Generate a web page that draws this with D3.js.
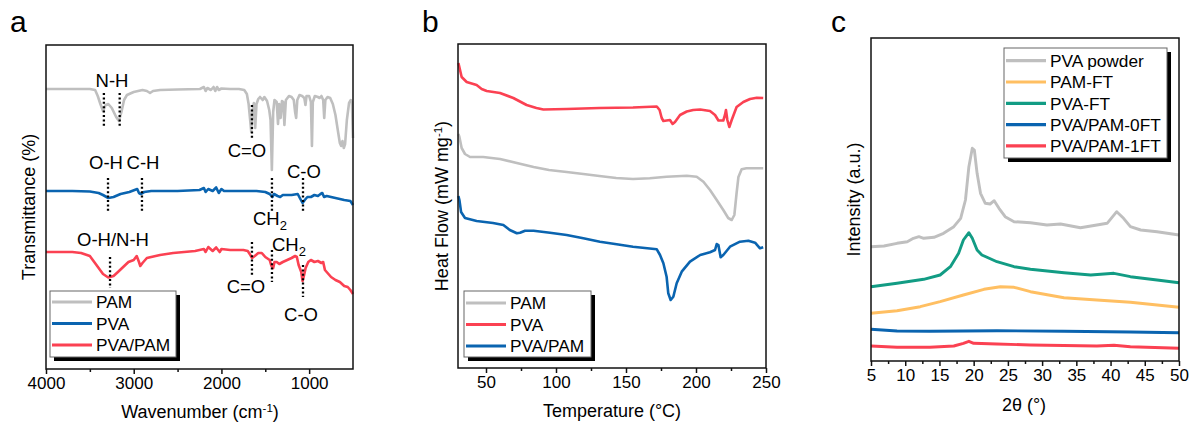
<!DOCTYPE html>
<html><head><meta charset="utf-8">
<script src="https://cdn.jsdelivr.net/npm/d3@7"></script>
<style>body{margin:0;background:#fff} svg{font-family:"Liberation Sans",Arial,sans-serif}</style>
</head><body><svg id="chart" width="1197" height="431"></svg>
<script>
// ---------- DATA ----------
// (a) FTIR: [wavenumber cm-1, transmittance a.u.]
const ftirPAM = [[4000,280],[3600,280],[3500,280],[3440,279],[3410,273],[3380,265],[3350,258],[3320,264],[3290,265],[3250,261],[3200,252],[3168,248],[3140,257],[3110,269],[3077,274],[3000,277],[2900,279],[2850,278],[2814,276],[2780,278],[2700,279],[2500,279.5],[2245,280],[2200,282],[2180,278],[2160,281],[2120,279],[2090,282],[2070,278],[2050,282],[2030,279],[2000,280.5],[1900,280],[1800,280],[1740,279],[1710,275],[1690,265],[1670,247],[1660,237],[1645,259],[1630,266],[1615,241],[1600,265],[1580,270],[1560,272],[1530,269],[1510,272],[1480,268],[1455,259],[1440,249],[1425,199],[1410,257],[1395,269],[1370,267],[1355,245],[1342,265],[1325,251],[1310,268],[1295,267],[1282,244],[1265,269],[1230,273],[1200,272],[1175,269],[1160,257],[1148,251],[1135,269],[1110,274],[1080,273],[1055,271],[1042,264],[1030,273],[1000,273],[980,267],[968,223],[958,267],[935,273],[900,272],[880,271],[860,273],[840,269],[828,251],[815,269],[790,272],[760,271],[730,265],[700,254],[670,237],[650,226],[635,223],[620,228],[605,221],[590,225],[570,249],[545,266],[525,269],[512,267],[505,244],[500,231]];
const ftirPVA = [[4000,178],[3700,178],[3500,177.5],[3400,176],[3350,174],[3290,171],[3230,172],[3150,175],[3050,177],[2990,179],[2960,180],[2940,176],[2920,175],[2880,177],[2800,178],[2500,178],[2250,179],[2200,181],[2180,177],[2150,180],[2100,178],[2060,181.5],[2030,176],[2000,180],[1970,178],[1800,178],[1600,178],[1500,177],[1450,175],[1420,172],[1400,175],[1360,173],[1330,172],[1300,174],[1200,174],[1130,175],[1100,170],[1075,166],[1050,169],[1020,172],[980,172],[940,174],[900,173],[870,175],[850,176],[830,172],[800,173],[700,171],[600,169],[530,168],[500,164]];
const ftirBlend = [[4000,117],[3700,117],[3600,116],[3500,113],[3450,107],[3400,101],[3350,95],[3290,91.5],[3230,93],[3180,97],[3120,102],[3060,107],[3000,109],[2966,113],[2940,107],[2925,103],[2900,106],[2850,111],[2700,114],[2550,116],[2300,118],[2200,120],[2180,117],[2150,122],[2100,118],[2060,121.5],[2020,117],[2000,120],[1900,119],[1750,119],[1700,118],[1670,114],[1650,111],[1620,113],[1580,116],[1540,116],[1500,112],[1450,109],[1430,103],[1410,101],[1395,107],[1370,107],[1340,105],[1300,107],[1250,109],[1200,111],[1160,113],[1140,112],[1120,104],[1090,97],[1075,88],[1060,93],[1040,101],[1010,107],[980,109],[940,107],[900,108],[860,106],[840,107],[820,99],[790,96],[750,92],[700,89],[650,87],[600,83],[560,82],[530,79],[500,75]];
const ftirTicks = [4000, 3000, 2000, 1000];
const ftirMinor = [3500, 2500, 1500];
// dotted band markers: [wavenumber, top, bottom]
const ftirMarks = [[3340,276,243],[3160,276,243],[1652,264,230],[3293,191,158],[2906,191,158],[1424,191,157],[1070,191,157],[3270,112,81],[1652,127,94],[1424,119,87],[1070,104,72]];
// band labels: [text, wavenumber, level, anchor]
const ftirLabels = [["N-H",3248,282,"middle"],["C=O",1709,212,"middle"],["O-H",3316,200,"middle"],["C-H",2894,200,"middle"],["C-O",1059,191,"middle"],["CH2",1640,144,"start"],["O-H/N-H",3236,123,"middle"],["CH2",1424,118,"start"],["C=O",1720,76,"middle"],["C-O",1093,48,"middle"]];

// (b) DSC: [temperature °C, heat flow a.u.]
const dscPVA = [[30.3,305],[32.6,291],[36.2,286],[43.3,283],[46.9,279],[50.5,277],[60,275],[69.5,270],[79,263],[86,260],[91,258.5],[107.6,259],[131,260],[155,260.5],[172,261.5],[174,258],[175.5,250],[176.7,247],[179,247.5],[181.4,248],[183.3,244],[185,246],[188.6,253],[193.4,256.5],[198,258],[203,258.5],[210,257],[213.6,253],[216,247.5],[219.5,247.5],[220.7,253],[221.4,258],[222.4,248],[223.8,241],[225.5,248],[229,261],[233.8,266],[238.6,269],[243.4,270.3],[248,270]];
const dscPAM = [[30.3,234],[31,231],[32.6,220],[35,214],[38.6,211],[48,211],[60,209],[72,205],[84,201],[95,198],[107.6,196],[119.5,194],[131,192],[143,190],[155,189],[167,189.7],[179,191.3],[193.4,192.3],[200.5,191.3],[205.3,186.3],[210,178],[214.8,168],[219.5,158],[223,150],[225.5,148],[227.4,153],[229,175],[230.3,191],[232.6,198.7],[236,199.7],[248,199.7]];
const dscBlend = [[30.3,172],[31,168],[32.2,156],[35,150],[43.3,147],[55,145],[62.4,143],[67,138],[72,134.7],[74.3,135.3],[77.9,137.3],[84,137.3],[95.7,135.3],[107.6,133],[119.5,129.7],[131.4,126.3],[143.3,123.7],[155,121.3],[172,118.7],[174.3,113],[176.7,104.7],[179,91.3],[180.2,74.7],[181.9,68],[183.8,71.3],[186.2,84.7],[189.8,96.3],[195.7,106.3],[203,113],[210,115.7],[213.6,118],[214.8,124],[216,123],[217.6,110.7],[219.5,113],[224.3,121.3],[231.4,126.3],[237.4,127.3],[242.2,125.3],[245.7,119.7],[248,120.7]];
const dscTicks = [50, 100, 150, 200, 250];
const dscMinor = [75, 125, 175, 225];

// (c) XRD: [2θ °, intensity a.u.]
const xrdPowder = [[5,114.3],[6.9,115],[8.8,117.7],[10.3,119.3],[11.2,122.7],[12,124.3],[12.7,122.7],[14.2,123.7],[15.6,127.7],[17.1,134.3],[18.1,142.7],[18.8,161],[19.3,194.3],[19.8,212.7],[20.1,211],[20.5,187.7],[21,167.7],[21.7,157.7],[22.4,157],[23,160.3],[23.7,152.7],[24.6,144.3],[25.9,139.3],[28.3,138.3],[30.7,136],[32.7,137],[35.6,133.3],[38,136],[39.5,137.7],[40.9,149.3],[41.9,142.7],[42.9,134.3],[44.4,131],[46.8,129.3],[50,126]];
const xrdPAMFT = [[5,47.7],[8.8,50.3],[12.2,54.3],[15.1,59.3],[18.5,66],[21.5,71.7],[23.9,74.3],[25.9,73.7],[28.3,69.3],[33.2,63.3],[38,61],[42.9,58.7],[50,53.7]];
const xrdPVAFT = [[5,74.3],[8.8,77.7],[12.7,81.7],[15.1,86],[16.6,94.3],[17.8,107.7],[18.5,121],[19.3,128.3],[19.8,122.7],[20.5,111],[21.2,106],[23.4,99.3],[25.9,94.3],[28.3,91.7],[33.2,88.3],[37.1,86],[40.5,87.7],[42.9,84.3],[46.8,81],[50,78.3]];
const xrd0FT = [[5,31.7],[8.8,30],[13.6,29.7],[23.4,30.3],[33.2,29.7],[42.9,29],[50,28.3]];
const xrd1FT = [[5,15],[8.8,13.7],[13.6,13.7],[17.1,15],[18.5,17.7],[19.3,19.7],[20,17.7],[23.4,17],[28.3,16],[38,15],[40.5,15.7],[42.9,14.3],[50,12.7]];
const xrdTicks = [5,10,15,20,25,30,35,40,45,50];
const xrdMinor = [7.5,12.5,17.5,22.5,27.5,32.5,37.5,42.5,47.5];

// ---------- STYLE ----------
const C = {gray:"#bfbfbf", blue:"#0a64b0", red:"#fb4152", green:"#129c84", orange:"#ffbf62"};
const svg = d3.select("#chart");
const FONT = 17, TFONT = 18;

function drawPanel(cfg) {
  const g = svg.append("g");
  const x = d3.scaleLinear().domain(cfg.xDomain).range([cfg.x0, cfg.x1]);
  const y = d3.scaleLinear().domain(cfg.yDomain).range([cfg.y1, cfg.y0]);
  const lineLinear = d3.line().x(d => x(d[0])).y(d => y(d[1]));
  cfg.series.forEach(s => {
    g.append("path").datum(s.data).attr("fill","none").attr("stroke",s.color)
      .attr("stroke-width",cfg.lw).attr("stroke-linejoin","round").attr("d", lineLinear);
  });
  g.append("rect").attr("x",cfg.x0).attr("y",cfg.y0).attr("width",cfg.x1-cfg.x0).attr("height",cfg.y1-cfg.y0)
    .attr("fill","none").attr("stroke","#111").attr("stroke-width",1.5);
  const ax = g.append("g").attr("transform",`translate(0,${cfg.y1})`)
    .call(d3.axisBottom(x).tickValues(cfg.ticks).tickSize(5).tickSizeOuter(0).tickPadding(3).tickFormat(d3.format("d")));
  ax.select(".domain").remove();
  ax.selectAll("line").attr("stroke","#111").attr("stroke-width",1.5);
  ax.selectAll("text").attr("font-size",FONT).attr("fill","#000").style("font-family","'Liberation Sans',Arial,sans-serif");
  const mx = g.append("g").attr("transform",`translate(0,${cfg.y1})`)
    .call(d3.axisBottom(x).tickValues(cfg.minor).tickSize(3).tickSizeOuter(0).tickFormat(""));
  mx.select(".domain").remove();
  mx.selectAll("line").attr("stroke","#111").attr("stroke-width",1.5);
  const xt = g.append("text").attr("x",cfg.xtX).attr("y",cfg.xtY).attr("text-anchor","middle").attr("font-size",TFONT);
  cfg.xTitle.forEach(p => { const t = xt.append("tspan").text(p[0]); if (p[1]) t.attr("font-size",11.5).attr("baseline-shift","super"); });
  const yt = g.append("text").attr("transform",`translate(${cfg.ytX},${(cfg.y0+cfg.y1)/2}) rotate(-90)`)
    .attr("text-anchor","middle").attr("font-size",TFONT);
  cfg.yTitle.forEach(p => { const t = yt.append("tspan").text(p[0]); if (p[1]) t.attr("font-size",11.5).attr("baseline-shift","super"); });
  g.append("text").attr("x",cfg.lx).attr("y",32).attr("font-size",30).text(cfg.letter);
  const L = cfg.legend;
  const lg = g.append("g");
  lg.append("rect").attr("x",L.x+4).attr("y",L.y+4).attr("width",L.w).attr("height",L.h).attr("fill","#000");
  lg.append("rect").attr("x",L.x).attr("y",L.y).attr("width",L.w).attr("height",L.h).attr("fill","#fff").attr("stroke","#666").attr("stroke-width",1);
  L.items.forEach((it,i) => {
    const yy = L.y + L.first + i*L.step;
    lg.append("line").attr("x1",L.x+2).attr("x2",L.x+42).attr("y1",yy).attr("y2",yy).attr("stroke",it.color).attr("stroke-width",3.2);
    lg.append("text").attr("x",L.x+46).attr("y",yy).attr("dy","0.36em").attr("font-size",17.3).text(it.name);
  });
  return {g, x, y};
}

const pa = drawPanel({
  letter:"a", lx:10, x0:46, x1:353, y0:45, y1:369, xDomain:[4000,500], yDomain:[0,324], lw:2.6,
  ticks:ftirTicks, minor:ftirMinor,
  series:[{data:ftirPAM,color:C.gray},{data:ftirPVA,color:C.blue},{data:ftirBlend,color:C.red}],
  xTitle:[["Wavenumber (cm"],["-1",true],[")"]], xtX:200, xtY:418,
  yTitle:[["Transmittance (%)"]], ytX:35,
  legend:{x:50,y:291,w:126,h:66,first:11,step:21.5,items:[{name:"PAM",color:C.gray},{name:"PVA",color:C.blue},{name:"PVA/PAM",color:C.red}]}
});
ftirMarks.forEach(m => {
  pa.g.append("line").attr("x1",pa.x(m[0])).attr("x2",pa.x(m[0])).attr("y1",pa.y(m[1])).attr("y2",pa.y(m[2]))
    .attr("stroke","#000").attr("stroke-width",2.3).attr("stroke-dasharray","2,2.4");
});
ftirLabels.forEach(l => {
  const t = pa.g.append("text").attr("x",pa.x(l[1])).attr("y",pa.y(l[2])).attr("text-anchor",l[3]).attr("font-size",18.5);
  if (l[0] === "CH2") { t.append("tspan").text("CH"); t.append("tspan").text("2").attr("font-size",13).attr("dy",5); }
  else t.text(l[0]);
});

drawPanel({
  letter:"b", lx:422, x0:458, x1:766, y0:44, y1:368, xDomain:[30,250], yDomain:[0,324], lw:2.6,
  ticks:dscTicks, minor:dscMinor,
  series:[{data:dscPAM,color:C.gray},{data:dscPVA,color:C.red},{data:dscBlend,color:C.blue}],
  xTitle:[["Temperature (°C)"]], xtX:612, xtY:417,
  yTitle:[["Heat Flow (mW mg"],["-1",true],[")"]], ytX:448,
  legend:{x:464,y:291,w:127,h:66,first:12,step:21.5,items:[{name:"PAM",color:C.gray},{name:"PVA",color:C.red},{name:"PVA/PAM",color:C.blue}]}
});

drawPanel({
  letter:"c", lx:831, x0:871, x1:1179, y0:38, y1:361, xDomain:[5,50], yDomain:[0,323], lw:2.9,
  ticks:xrdTicks, minor:xrdMinor,
  series:[{data:xrdPowder,color:C.gray},{data:xrdPAMFT,color:C.orange},{data:xrdPVAFT,color:C.green},{data:xrd0FT,color:C.blue},{data:xrd1FT,color:C.red}],
  xTitle:[["2θ (°)"]], xtX:1024, xtY:411,
  yTitle:[["Intensity (a.u.)"]], ytX:860,
  legend:{x:1004,y:48,w:163,h:110,first:12.7,step:21.3,items:[{name:"PVA powder",color:C.gray},{name:"PAM-FT",color:C.orange},{name:"PVA-FT",color:C.green},{name:"PVA/PAM-0FT",color:C.blue},{name:"PVA/PAM-1FT",color:C.red}]}
});
</script></body></html>
